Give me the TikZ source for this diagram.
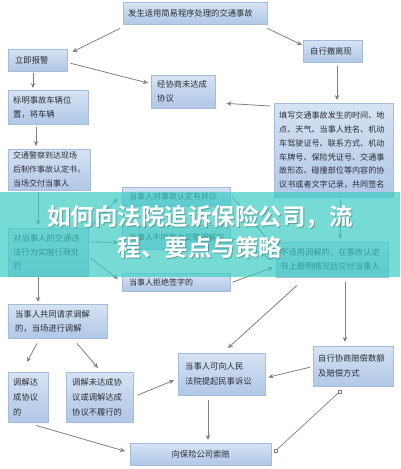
\documentclass[tikz,border=0pt]{standalone}
\usepackage{fontspec}
\setmainfont{Noto Sans CJK SC}
\newfontfamily\titlefont{Noto Sans CJK SC Bold}
\usetikzlibrary{arrows.meta,shadows,shapes.geometric}
\definecolor{boxtop}{RGB}{214,227,243}
\definecolor{boxbot}{RGB}{176,199,230}
\definecolor{boxedge}{RGB}{165,188,220}
\definecolor{txt}{RGB}{45,45,55}
\definecolor{arrcol}{RGB}{128,128,132}
\definecolor{band}{RGB}{60,205,195}
\tikzset{
  box/.style={rectangle, anchor=north west, top color=boxtop, bottom color=boxbot,
    draw=boxedge, line width=0.4pt, inner xsep=5pt, inner ysep=2pt, align=left,
    text=txt, font=\fontsize{8.3}{13.8}\selectfont,
    drop shadow={opacity=0.25, shadow xshift=1pt, shadow yshift=-1pt}},
  arr/.style={draw=arrcol, line width=0.8pt, -{Stealth[length=5pt,width=4.5pt]}},
  sqline/.style={draw=arrcol, line width=0.7pt},
  sq/.style={rectangle, draw=arrcol, fill=white, line width=0.4pt, minimum size=3pt, inner sep=0pt}
}
\begin{document}
\begin{tikzpicture}[x=1pt,y=-1pt]
\useasboundingbox (0,0) rectangle (400,469);
\fill[white] (0,0) rectangle (400,469);

\node[box, minimum width=144, minimum height=22, text width=134] (top) at (123,2) {发生适用简易程序处理的交通事故};
\node[box, minimum width=59, minimum height=22, text width=45, inner xsep=7pt] (b2) at (8,49) {立即报警};
\node[box, minimum width=59, minimum height=22, text width=45, inner xsep=7pt] (b3) at (303,40) {自行撤离现};
\node[box, minimum width=64, minimum height=33, text width=52, inner xsep=6pt] (b4) at (151,75) {经协商未达成\\协议};
\node[box, minimum width=80, minimum height=34, text width=70] (b5) at (8,90) {标明事故车辆位\\置，将车辆};
\node[box, minimum width=82, minimum height=41, text width=72, font=\fontsize{8}{13.8}\selectfont] (b6) at (8,149) {交通警察到达现场\\后制作事故认定书，\\当场交付当事人};
\node[box, minimum width=119, minimum height=94, text width=109, font=\fontsize{8.1}{13.7}\selectfont] (b7) at (274,103) {填写交通事故发生的时间、地\\点、天气、当事人姓名、机动\\车驾驶证号、联系方式、机动\\车牌号、保险凭证号、交通事\\故形态、碰撞部位等内容的协\\议书或者文字记录，共同签名};
\node[box, minimum width=108, minimum height=19, text width=94, inner xsep=7pt, font=\fontsize{8}{13}\selectfont] (b8) at (122,187) {当事人对事故认定有异议};
\node[box, minimum width=108, minimum height=24, text width=94, inner xsep=7pt, font=\fontsize{7.9}{13}\selectfont] (b9) at (122,225) {当事人不同意由交警调解的};
\node[box, minimum width=108, minimum height=18, text width=94, inner xsep=7pt, font=\fontsize{8}{13}\selectfont] (b10) at (122,273) {当事人拒绝签字的};
\node[box, minimum width=80, minimum height=48, text width=70] (b11) at (8,228) {对当事人的交通违\\法行为实施行政处\\罚};
\node[box, minimum width=112, minimum height=35, text width=104, inner xsep=4pt] (b12) at (276,242) {不适用调解的，在事故认定\\书上载明情况后交付当事人};
\node[box, minimum width=99, minimum height=34, text width=85, inner xsep=7pt] (b13) at (8,304) {当事人共同请求调解\\的，当场进行调解};
\node[box, minimum width=40, minimum height=50, text width=30, font=\fontsize{8.3}{14.8}\selectfont] (b14) at (8,372) {调解达\\成协议\\的};
\node[box, minimum width=67, minimum height=50, text width=55, inner xsep=6pt, font=\fontsize{8.3}{14.8}\selectfont] (b15) at (66,372) {调解未达成协\\议或调解达成\\协议不履行的};
\node[box, minimum width=87, minimum height=42, text width=73, inner xsep=7pt, font=\fontsize{8.3}{15}\selectfont] (b16) at (178,353) {当事人可向人民\\法院提起民事诉讼};
\node[box, minimum width=80, minimum height=40, text width=70, font=\fontsize{8.3}{15}\selectfont] (b17) at (313,346) {自行协商赔偿数额\\及赔偿方式};
\node[box, minimum width=141, minimum height=22, text width=131, align=center] (b18) at (130,443) {向保险公司索赔};

% connectors
\draw[arr] ([shift={(-3,4)}]top.south west) -- ([shift={(5,3)}]b2.north east);
\draw[arr] ([shift={(0,4)}]top.south east) -- ([shift={(-1,5)}]b3.north west);
\draw[arr] ([shift={(3,3)}]b2.east) -- ([shift={(-3,8)}]b4.north west);
\draw[arr] ([shift={(25,2)}]b2.south west) -- ([shift={(25,-2)}]b5.north west);
\draw[arr] ([shift={(34,4)}]b3.south west) -- ([shift={(63,-3)}]b7.north west);
\draw[arr] ([shift={(-4,3)}]b7.north west) -- ([shift={(11,-5)}]b4.south east);
\draw[arr] ([shift={(28,3)}]b5.south west) -- ([shift={(28,-3)}]b6.north west);
\draw[arr] ([shift={(30,2)}]b6.south west) -- ([shift={(30,-3)}]b11.north west);
\draw[arr] ([shift={(30,1)}]b11.south west) -- ([shift={(30,-2)}]b13.north west);
\draw[arr] ([shift={(2,-1)}]b11.north east) -- ([shift={(-4,-8)}]b8.south west);
\draw[arr] ([shift={(2,14)}]b11.north east) -- ([shift={(-4,-7)}]b9.south west);
\draw[arr] ([shift={(2,30)}]b11.north east) -- ([shift={(-4,6)}]b10.north west);
\draw[arr] ([shift={(2,0)}]b8.east) -- ([shift={(-4,3)}]b12.north west);
\draw[arr] ([shift={(2,1)}]b9.east) -- ([shift={(-4,0)}]b12.west);
\draw[arr] ([shift={(2,0)}]b10.east) -- ([shift={(-3,-10)}]b12.south west);
\draw[arr] ([shift={(66,2)}]b7.south west) -- ([shift={(64,-3)}]b12.north west);
\draw[arr] ([shift={(21,8)}]b12.south west) -- ([shift={(50,-5)}]b16.north west);
\draw[arr] ([shift={(69,5)}]b12.south west) -- ([shift={(32,-4)}]b17.north west);
\draw[arr] ([shift={(-3,1)}]b17.west) -- ([shift={(3,3)}]b16.east);
\draw[arr] ([shift={(30,5)}]b16.south west) -- ([shift={(78,-3)}]b18.north west);
\draw[arr] ([shift={(29,5)}]b13.south west) -- ([shift={(19,-10)}]b14.north west);
\draw[arr] ([shift={(69,5)}]b13.south west) -- ([shift={(32,-4)}]b15.north west);
\draw[arr] ([shift={(4,-2)}]b15.east) -- ([shift={(-4,6)}]b16.west);
\draw[arr] ([shift={(28,3)}]b14.south west) -- ([shift={(-5,-3)}]b18.west);
\coordinate (sqa) at ([shift={(27,5)}]b17.south west);
\coordinate (sqb) at ([shift={(4,8)}]b18.north east);
\draw[sqline] (sqa) -- (sqb);
\node[sq] (sqa1) at (sqa) {};
\node[sq] (sqb1) at (sqb) {};

% overlay band and title
\fill[band, opacity=0.7] (0,192) rectangle (400,277);
\node[font=\titlefont\fontsize{23.5}{31}\selectfont, text=black, opacity=0.25, align=center] (titleshadow) at (201,232.5) {如何向法院追诉保险公司，流\\程、要点与策略};
\node[font=\titlefont\fontsize{23.5}{31}\selectfont, text=white, align=center] (title) at (200,231.5) {如何向法院追诉保险公司，流\\程、要点与策略};
\end{tikzpicture}
\end{document}
